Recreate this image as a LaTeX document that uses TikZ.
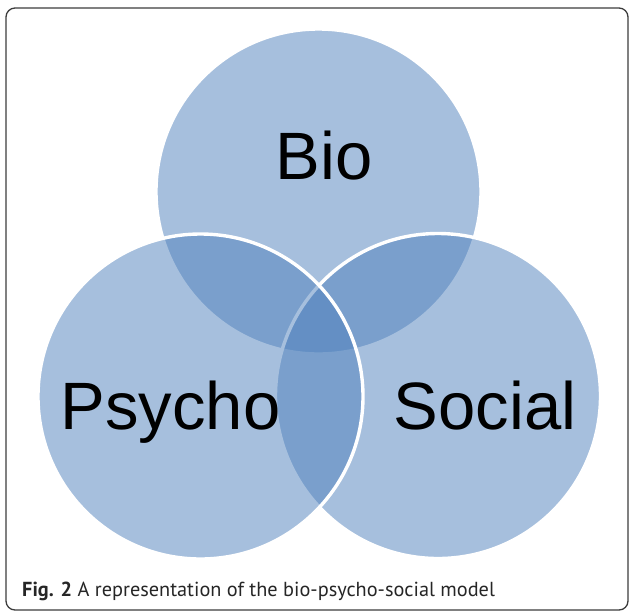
\documentclass[tikz,border=0pt]{standalone}
\usepackage{fontspec}
\setmainfont{Liberation Sans}
\newfontfamily\capfont{PT Sans}
\definecolor{vennblue}{RGB}{79,129,189}
\definecolor{framegray}{RGB}{60,60,60}
\tikzset{
  venn/.style={fill=vennblue, fill opacity=0.5, draw=white, draw opacity=1, line width=3.4pt},
  biglabel/.style={anchor=base, inner sep=0pt, font=\fontsize{67}{80}\selectfont, text=black},
  caption/.style={anchor=base west, inner sep=0pt, font=\capfont\fontsize{20.3}{24}\selectfont, text=black!85}
}
\begin{document}
\begin{tikzpicture}[x=1pt, y=-1pt]
\useasboundingbox (0,0) rectangle (629,611);
\fill[white] (0,0) rectangle (629,611);
\draw[framegray, line width=1.3pt, rounded corners=9pt] (6,8) rectangle (628,610);
% circles: Bio, Social, Psycho
\draw[venn] (318.5,191.5) circle[radius=162.5pt];
\draw[venn] (438,396) circle[radius=162.5pt];
\draw[venn] (200.5,396.5) circle[radius=162.5pt];
% labels
\node[biglabel] (bio) at (324,179) {Bio};
\node[biglabel] (psycho) at (170.5,429) {Psycho};
\node[biglabel] (social) at (485,429) {Social};
\node[caption] (cap) at (22,596) {\textbf{Fig. 2} A representation of the bio-psycho-social model};
\end{tikzpicture}
\end{document}
